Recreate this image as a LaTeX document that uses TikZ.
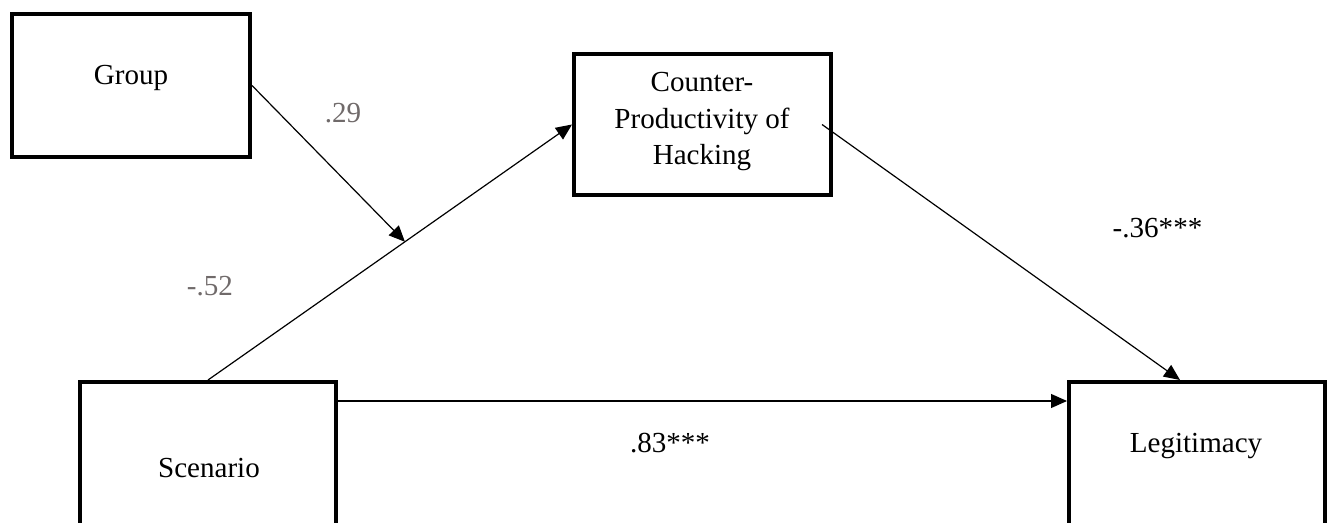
\documentclass[tikz,border=0pt]{standalone}
\usepackage{fontspec}
\setmainfont{Liberation Serif}
\usetikzlibrary{arrows.meta,calc}
\definecolor{coefgray}{RGB}{112,106,106}
\tikzset{
  varbox/.style={draw=black, line width=3pt, fill=white, inner sep=0pt},
  conn/.style={draw=black, line width=0.9pt, -{Triangle[length=12pt,width=10.5pt]}},
  plainline/.style={draw=black, line width=0.9pt},
  boxtext/.style={font=\fontsize{21.8pt}{27.4pt}\selectfont, inner sep=0pt},
  coef/.style={font=\fontsize{21.8pt}{27.4pt}\selectfont, inner sep=0pt, anchor=base},
  coefg/.style={coef, text=coefgray}
}
\begin{document}
\begin{tikzpicture}[x=0.75pt, y=-0.75pt]
\useasboundingbox (0,0) rectangle (1333,523);
\clip (0,0) rectangle (1333,523);
% boxes
\node[varbox, minimum width=178.5pt, minimum height=107.25pt] (group) at (131,85.5) {};
\node[varbox, minimum width=192.75pt, minimum height=105.75pt] (cph) at (702.5,124.5) {};
\node[varbox, minimum width=192pt, minimum height=107.25pt] (scen) at (208,453.5) {};
\node[varbox, minimum width=192pt, minimum height=107.25pt] (legit) at (1197,453.5) {};
% box texts
\node[boxtext, anchor=base] (grouptxt) at (131,85) {Group};
\node[boxtext, align=center, anchor=center] (cphtxt) at (702,121.7) {Counter-\\Productivity of\\Hacking};
\node[boxtext, anchor=base] (scentxt) at (209,477) {Scenario};
\node[boxtext, anchor=base] (legittxt) at (1196,452) {Legitimacy};
% connectors
\draw[conn] (scen.north) -- (cph.west);
\coordinate (modpt) at ($(scen.north)!0.541!(cph.west)$);
\draw[conn] (group.east) -- (modpt);
\coordinate (cphstart) at ([xshift=-8.25pt]cph.east);
\coordinate (legittop) at ([xshift=-12.75pt]legit.north);
\draw[conn] (cphstart) -- (legittop);
\draw[conn] ([yshift=-15.75pt]scen.north east) -- ([yshift=-15.75pt]legit.north west);
% coefficients
\node[coefg] (c29) at (343,123) {.29};
\node[coefg] (c52) at (210,296) {-.52};
\node[coef] (c83) at (670,452) {.83***};
\node[coef] (c36) at (1157.5,238) {-.36***};
\end{tikzpicture}
\end{document}
